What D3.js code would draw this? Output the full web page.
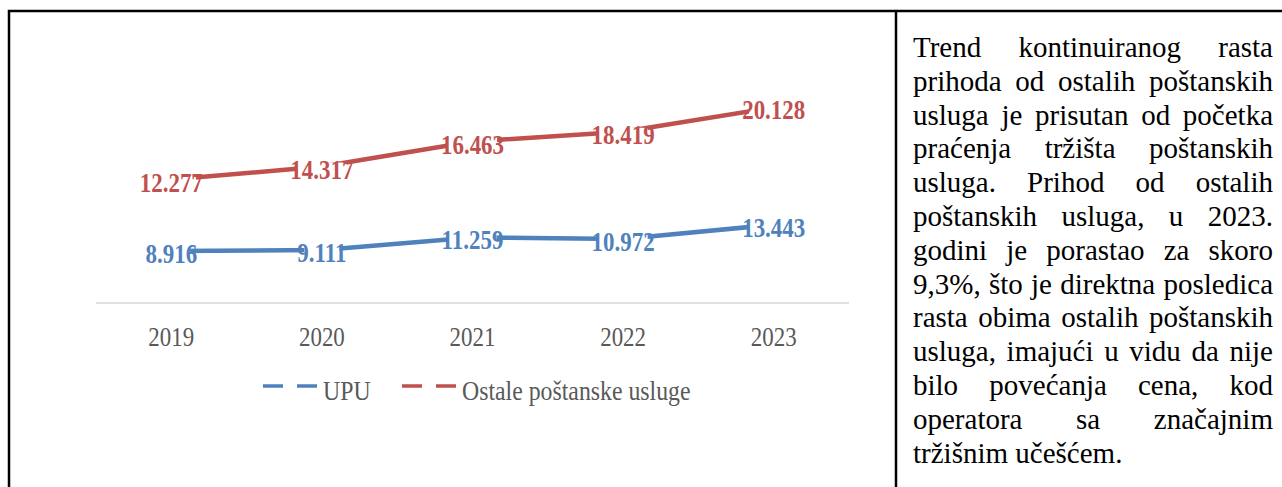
<!DOCTYPE html>
<html>
<head>
<meta charset="utf-8">
<script src="https://cdn.jsdelivr.net/npm/d3@7"></script>
<style>
  body { margin: 0; background: #fff; }
  svg { display: block; }
  text { font-family: 'Liberation Serif', 'Times New Roman', serif; }
</style>
</head>
<body>
<svg id="page"></svg>
<script>
// chart data
const years = ['2019', '2020', '2021', '2022', '2023'];
const upu = [8.916, 9.111, 11.259, 10.972, 13.443];
const ostale = [12.277, 14.317, 16.463, 18.419, 20.128];
const seriesNames = ['UPU', 'Ostale poštanske usluge'];

// text in the right cell, one entry per printed line
const textLines = [
  'Trend kontinuiranog rasta',
  'prihoda od ostalih poštanskih',
  'usluga je prisutan od početka',
  'praćenja tržišta poštanskih',
  'usluga. Prihod od ostalih',
  'poštanskih usluga, u 2023.',
  'godini je porastao za skoro',
  '9,3%, što je direktna posledica',
  'rasta obima ostalih poštanskih',
  'usluga, imajući u vidu da nije',
  'bilo povećanja cena, kod',
  'operatora sa značajnim',
  'tržišnim učešćem.'
];

const W = 1282, H = 487;
const colors = ['#4F81BD', '#C0504D'];
const sx = 0.85; // chart image is squeezed horizontally

const svg = d3.select('#page').attr('width', W).attr('height', H);

// table borders
svg.append('rect').attr('x', 9).attr('y', 11).attr('width', W).attr('height', H)
  .attr('fill', 'none').attr('stroke', '#000').attr('stroke-width', 2.5);
svg.append('line').attr('x1', 896).attr('x2', 896).attr('y1', 11).attr('y2', H)
  .attr('stroke', '#000').attr('stroke-width', 2.5);

// scales
const x = d3.scalePoint().domain(years).range([96, 849]).padding(0.5);
const y = d3.scaleLinear().domain([0, 40]).range([303, 70]);

// stacked line chart
const rows = years.map((yr, i) => ({ year: yr, UPU: upu[i], Ostale: ostale[i] }));
const stacked = d3.stack().keys(['UPU', 'Ostale'])(rows);

// baseline gridline
svg.append('line').attr('x1', 96).attr('x2', 849).attr('y1', y(0)).attr('y2', y(0))
  .attr('stroke', '#d9d9d9').attr('stroke-width', 1.5);

const line = d3.line()
  .x(d => x(d.data.year))
  .y(d => y(d[1]));

svg.selectAll('.series')
  .data(stacked)
  .enter()
  .append('path')
  .attr('class', 'series')
  .attr('d', line)
  .attr('fill', 'none')
  .attr('stroke', (d, i) => colors[i])
  .attr('stroke-width', 4.5)
  .attr('stroke-linecap', 'round')
  .attr('stroke-linejoin', 'round');

// data labels, white box behind them hides the line
stacked.forEach((s, si) => {
  s.forEach((d, i) => {
    const val = si === 0 ? upu[i] : ostale[i];
    const g = svg.append('g')
      .attr('transform', 'translate(' + x(d.data.year) + ',' + (y(d[1]) + 12) + ') scale(' + sx + ',1)');
    const box = g.append('rect').attr('fill', '#fff');
    const t = g.append('text')
      .attr('text-anchor', 'middle')
      .attr('font-weight', 'bold')
      .attr('font-size', 27)
      .attr('fill', colors[si])
      .text(val.toFixed(3));
    const b = t.node().getBBox();
    const inset = 7 / sx;
    box.attr('x', b.x + inset).attr('width', b.width - 2 * inset)
      .attr('y', -16).attr('height', 14);
  });
});

// x axis labels
svg.selectAll('.year')
  .data(years)
  .enter()
  .append('text')
  .attr('class', 'year')
  .attr('transform', d => 'translate(' + x(d) + ',346) scale(' + sx + ',1)')
  .attr('text-anchor', 'middle')
  .attr('font-size', 27)
  .attr('fill', '#595959')
  .text(d => d);

// legend
const legendX = [263, 402];
seriesNames.forEach((name, i) => {
  svg.append('line')
    .attr('x1', legendX[i]).attr('x2', legendX[i] + 54)
    .attr('y1', 386).attr('y2', 386)
    .attr('stroke', colors[i]).attr('stroke-width', 3.5)
    .attr('stroke-dasharray', '20,14');
  svg.append('text')
    .attr('transform', 'translate(' + (legendX[i] + 60) + ',400) scale(' + sx + ',1)')
    .attr('font-size', 28)
    .attr('fill', '#595959')
    .text(name);
});

// justified paragraph in the right cell
const tx0 = 913, tx1 = 1273, ty0 = 57, lh = 33.8;
textLines.forEach((ln, li) => {
  const words = ln.split(' ');
  const g = svg.append('g');
  const nodes = words.map(w => g.append('text')
    .attr('y', ty0 + li * lh)
    .attr('font-size', 29)
    .attr('fill', '#000')
    .text(w));
  const widths = nodes.map(n => n.node().getComputedTextLength());
  const total = d3.sum(widths);
  const last = li === textLines.length - 1;
  const gap = last || words.length < 2 ? 29 * 0.25 : (tx1 - tx0 - total) / (words.length - 1);
  let cx = tx0;
  nodes.forEach((n, k) => {
    n.attr('x', cx);
    cx += widths[k] + gap;
  });
});
</script>
</body>
</html>
